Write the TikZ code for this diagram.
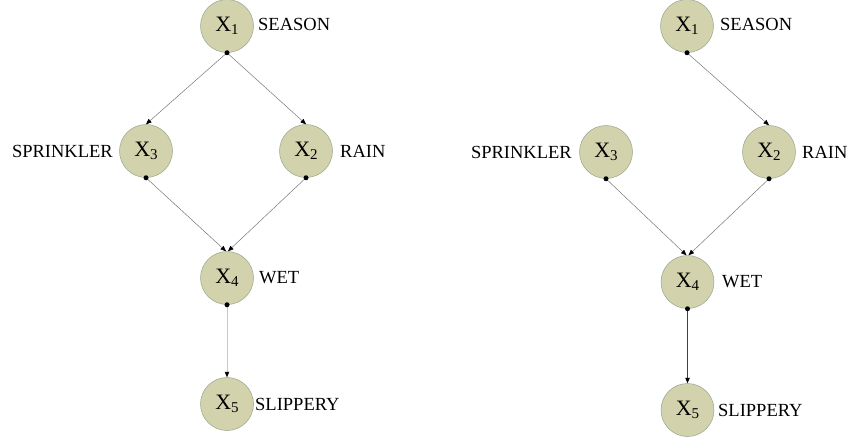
\documentclass[tikz,border=0pt]{standalone}
\usepackage{fontspec}
\setmainfont{Liberation Serif}
\usetikzlibrary{arrows.meta}
\definecolor{nodefill}{RGB}{210,210,172}
\definecolor{nodeedge}{RGB}{150,165,140}
\definecolor{edgegray}{RGB}{120,120,120}
\definecolor{edgelight}{RGB}{200,200,200}
\tikzset{
  var/.style={circle,minimum size=53pt,inner sep=0pt,fill=nodefill,draw=nodeedge,line width=0.5pt,
    font=\fontsize{22}{22}\selectfont},
  lab/.style={inner sep=0pt,font=\fontsize{18.5}{18.5}\selectfont},
  edge/.style={draw=edgegray,line width=0.5pt,-{Triangle[length=5.5pt,width=4.5pt,fill=black,color=black]}},
  srcdot/.style={circle,fill=black,inner sep=0pt,minimum size=5pt}
}
\newcommand{\xv}[1]{X\raisebox{-0.35ex}{\fontsize{15}{15}\selectfont #1}}
\begin{document}
\begin{tikzpicture}[x=1pt,y=-1pt]
\useasboundingbox (0,0) rectangle (853,436);
% ---------- left graph ----------
\node[var] (a1) at (227,26) {\xv{1}};
\node[var] (a3) at (146,151) {\xv{3}};
\node[var] (a2) at (306,151) {\xv{2}};
\node[var] (a4) at (227,278) {\xv{4}};
\node[var] (a5) at (227,404) {\xv{5}};
\node[lab,anchor=west] (la1) at (258,24) {SEASON};
\node[lab,anchor=east] (la3) at (113,151) {SPRINKLER};
\node[lab,anchor=west] (la2) at (340,151) {RAIN};
\node[lab,anchor=west] (la4) at (259,278) {WET};
\node[lab,anchor=west] (la5) at (255,404) {SLIPPERY};
\draw[edge] (a1.south) -- (a3.north);
\draw[edge] (a1.south) -- (a2.north);
\draw[edge] (a3.south) -- ([xshift=-1pt]a4.north);
\draw[edge] (a2.south) -- ([xshift=1pt]a4.north);
\draw[edge,draw=edgelight] (a4.south) -- (a5.north);
\foreach \n in {a1,a3,a2,a4} \node[srcdot] at (\n.south) {};
% ---------- right graph ----------
\node[var] (b1) at (687,26) {\xv{1}};
\node[var] (b3) at (606,152) {\xv{3}};
\node[var] (b2) at (769,152) {\xv{2}};
\node[var] (b4) at (687.5,282) {\xv{4}};
\node[var] (b5) at (687.5,410) {\xv{5}};
\node[lab,anchor=west] (lb1) at (720,24) {SEASON};
\node[lab,anchor=east] (lb3) at (572,152) {SPRINKLER};
\node[lab,anchor=west] (lb2) at (802,152) {RAIN};
\node[lab,anchor=west] (lb4) at (722,282) {WET};
\node[lab,anchor=west] (lb5) at (718,410) {SLIPPERY};
\draw[edge] (b1.south) -- (b2.north);
\draw[edge] (b3.south) -- ([xshift=-1pt]b4.north);
\draw[edge] (b2.south) -- ([xshift=1pt]b4.north);
\draw[edge,draw=black!75,line width=0.8pt] (b4.south) -- (b5.north);
\foreach \n in {b1,b3,b2,b4} \node[srcdot] at (\n.south) {};
\end{tikzpicture}
\end{document}
